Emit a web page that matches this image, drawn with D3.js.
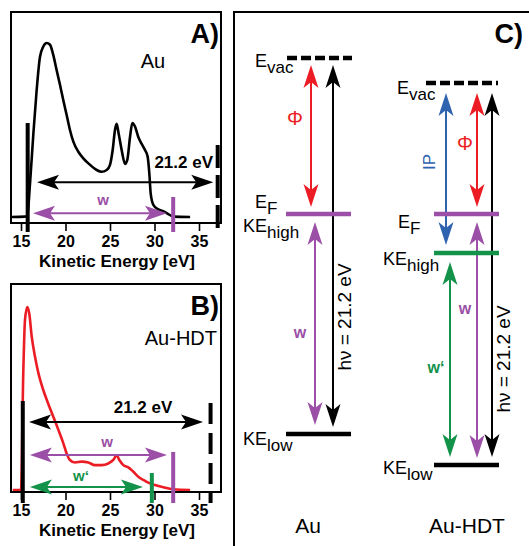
<!DOCTYPE html>
<html><head><meta charset="utf-8">
<script src="https://cdn.jsdelivr.net/npm/d3@7"></script>
<style>body{margin:0;background:#fff} svg{display:block} text{font-family:"Liberation Sans",Arial,Helvetica,sans-serif}</style>
</head><body><svg id="c" width="529" height="546"></svg>
<script>
// ---------- data ----------
const energyTicks = [15, 20, 25, 30, 35];
const axisTitle = "Kinetic Energy [eV]";
// Panel A: Au spectrum (kinetic energy, normalised intensity)
const auE = [13.9,15.45,15.71,16.01,16.39,16.76,17.13,17.51,17.88,18.26,18.63,19.0,19.38,19.76,20.13,20.5,20.88,21.44,22.0,22.75,23.5,24.06,24.63,25.0,25.3,25.56,25.75,25.97,26.31,26.69,26.95,27.25,27.51,27.81,28.18,28.56,28.93,29.23,29.42,29.57,29.87,30.43,30.99,31.55,32.12,34.0];
const auI = [0,0.002,0.01,0.19,0.48,0.73,0.92,0.98,1.0,0.99,0.93,0.845,0.76,0.67,0.586,0.5,0.433,0.375,0.337,0.30,0.27,0.26,0.27,0.30,0.385,0.5,0.535,0.48,0.385,0.305,0.33,0.46,0.54,0.52,0.46,0.42,0.385,0.347,0.25,0.136,0.07,0.044,0.034,0.017,0.002,0];
// Panel B: Au-HDT spectrum
const hdtE = [14.07,15.0,15.26,15.45,15.71,15.94,16.2,16.57,16.95,17.51,18.07,18.63,19.19,19.76,20.13,20.5,21.07,21.82,22.57,23.31,24.06,24.81,25.37,25.75,26.05,26.5,27.06,27.62,28.18,28.75,29.3,30.06,31.0,32.1,34.0];
const hdtI = [0,0,0.65,0.93,1.0,0.96,0.84,0.73,0.64,0.545,0.47,0.4,0.33,0.255,0.2,0.164,0.15,0.155,0.15,0.136,0.136,0.145,0.164,0.19,0.164,0.136,0.124,0.1,0.073,0.055,0.04,0.027,0.015,0.004,0];
// Panel A markers (eV)
const auCutoff = 15.75, auFermi = 32.1, auVac = 37.1;
// Panel B markers (eV)
const hdtCutoff = 15.2, hdtFermi = 32.1, hdtHigh = 29.7, hdtVac = 36.3;
// Panel C energy levels (diagram energy units)
const levelNames = ["Evac", "EF", "KEhigh", "KElow"];
const auLevels = [21.2, 12.4, 12.4, 0];
const hdtLevels = [19.79, 12.4, 10.2, -1.75];
const photonLabel = "hν = 21.2 eV";
const sampleNames = ["Au", "Au-HDT"];

// ---------- style ----------
const PURPLE = "#9b4fa6", GREEN = "#13924a", BLUE = "#2f63b0", RED = "#ec1c24", BLACK = "#000";
const svg = d3.select("#c");

function arrow(g, x1, y1, x2, y2, color, startHead, endHead, opt = {}) {
  const L = opt.L || 22, W = opt.W || 7.5, N = opt.N || 16, sw = opt.sw || 2;
  const len = Math.hypot(x2 - x1, y2 - y1), dx = (x2 - x1) / len, dy = (y2 - y1) / len;
  const sx = startHead ? x1 + dx * N : x1, sy = startHead ? y1 + dy * N : y1;
  const ex = endHead ? x2 - dx * N : x2, ey = endHead ? y2 - dy * N : y2;
  g.append("line").attr("x1", sx).attr("y1", sy).attr("x2", ex).attr("y2", ey)
    .attr("stroke", color).attr("stroke-width", sw);
  const head = (tx, ty, ux, uy) => {
    const nx = -uy, ny = ux;
    const p = [[tx, ty], [tx - ux * L + nx * W, ty - uy * L + ny * W], [tx - ux * N, ty - uy * N], [tx - ux * L - nx * W, ty - uy * L - ny * W]];
    g.append("path").attr("d", "M" + p.map(q => q.join(",")).join("L") + "Z").attr("fill", color);
  };
  if (endHead) head(x2, y2, dx, dy);
  if (startHead) head(x1, y1, -dx, -dy);
}

// ---------- spectra panels ----------
const x = d3.scaleLinear().domain([15, 35]).range([21, 199]);

function spectrum(cfg) {
  const g = svg.append("g");
  const y = d3.scaleLinear().domain([0, 1]).range([cfg.base, cfg.peak]);
  const ax = g.append("g").attr("transform", `translate(0,${cfg.bottom})`)
    .call(d3.axisBottom(x).tickValues(energyTicks).tickSize(8).tickSizeOuter(0).tickPadding(4.5));
  ax.select(".domain").remove();
  ax.selectAll(".tick line").attr("stroke-width", 1.6);
  ax.selectAll(".tick text").attr("font-size", 16).attr("font-weight", "bold")
    .attr("font-family", '"Liberation Sans",Arial,sans-serif').attr("fill", BLACK);
  g.append("text").attr("x", 117).attr("y", cfg.bottom + 44).attr("text-anchor", "middle")
    .attr("font-size", 17).attr("font-weight", "bold").text(axisTitle);
  const line = d3.line().x((d, i) => x(cfg.E[i])).y(d => y(d)).curve(d3.curveMonotoneX);
  g.append("path").attr("d", line(cfg.I)).attr("fill", "none").attr("stroke", cfg.color)
    .attr("stroke-width", 2.6).attr("stroke-linejoin", "round");
  g.append("rect").attr("x", 11).attr("y", cfg.top).attr("width", 210).attr("height", cfg.bottom - cfg.top)
    .attr("fill", "none").attr("stroke", BLACK).attr("stroke-width", 2);
  const low = y(cfg.barLow);
  g.append("line").attr("x1", x(cfg.cutoff)).attr("x2", x(cfg.cutoff)).attr("y1", y(cfg.cutTop)).attr("y2", low)
    .attr("stroke", BLACK).attr("stroke-width", 4);
  g.append("line").attr("x1", x(cfg.vac)).attr("x2", x(cfg.vac)).attr("y1", y(cfg.vacTop)).attr("y2", low)
    .attr("stroke", BLACK).attr("stroke-width", 4).attr("stroke-dasharray", cfg.dash);
  g.append("line").attr("x1", x(cfg.fermi)).attr("x2", x(cfg.fermi)).attr("y1", y(cfg.fermiTop)).attr("y2", low)
    .attr("stroke", PURPLE).attr("stroke-width", 4);
  if (cfg.high) g.append("line").attr("x1", x(cfg.high)).attr("x2", x(cfg.high)).attr("y1", y(cfg.highTop)).attr("y2", low)
    .attr("stroke", GREEN).attr("stroke-width", 4);
  cfg.arrows.forEach(a => {
    arrow(g, x(a.from), y(a.at), x(a.to), y(a.at), a.color, true, true, { L: 22, W: 7.5, N: 17, sw: 2 });
    g.append("text").attr("x", a.lx).attr("y", a.ly).attr("text-anchor", a.anchor || "middle")
      .attr("font-size", a.fs || 15).attr("font-weight", "bold").attr("fill", a.color).text(a.label);
  });
  g.append("text").attr("x", 219).attr("y", cfg.top + 31).attr("text-anchor", "end")
    .attr("font-size", 27).attr("font-weight", "bold").text(cfg.panel);
  g.append("text").attr("x", cfg.nameX).attr("y", cfg.nameY).attr("text-anchor", cfg.nameAnchor)
    .attr("font-size", 20).text(cfg.name);
}

spectrum({
  top: 12, bottom: 223, base: 217, peak: 43, E: auE, I: auI, color: BLACK,
  cutoff: auCutoff, cutTop: 0.54, vac: auVac, vacTop: 0.414, fermi: auFermi, fermiTop: 0.115,
  barLow: -0.086, dash: "23,7",
  arrows: [
    { from: 16.8, to: 36.6, at: 0.2, color: BLACK, label: "21.2 eV", lx: 213, ly: 168, anchor: "end", fs: 17 },
    { from: 16.35, to: 31.4, at: 0.022, color: PURPLE, label: "w", lx: 103, ly: 205 }
  ],
  panel: "A)", name: sampleNames[0], nameX: 153, nameY: 68, nameAnchor: "middle"
});
spectrum({
  top: 284, bottom: 492, base: 490, peak: 307, E: hdtE, I: hdtI, color: RED,
  cutoff: hdtCutoff, cutTop: 0.486, vac: hdtVac, vacTop: 0.475, fermi: hdtFermi, fermiTop: 0.208,
  high: hdtHigh, highTop: 0.093, barLow: -0.071, dash: "21,9",
  arrows: [
    { from: 15.9, to: 35.45, at: 0.372, color: BLACK, label: "21.2 eV", lx: 143, ly: 413, fs: 17 },
    { from: 16.0, to: 31.4, at: 0.191, color: PURPLE, label: "w", lx: 107, ly: 447 },
    { from: 16.0, to: 28.7, at: 0.016, color: GREEN, label: "w‘", lx: 81, ly: 481 }
  ],
  panel: "B)", name: sampleNames[1], nameX: 217, nameY: 345, nameAnchor: "end"
});

// ---------- panel C ----------
const gC = svg.append("g");
gC.append("path").attr("d", "M234,560V12H535").attr("fill", "none").attr("stroke", BLACK).attr("stroke-width", 2);
gC.append("text").attr("x", 523).attr("y", 43).attr("text-anchor", "end").attr("font-size", 27)
  .attr("font-weight", "bold").text("C)");
const yC = d3.scaleLinear().domain([0, 21.2]).range([434, 58]);
const lv = (arr, name) => yC(arr[levelNames.indexOf(name)]);

function level(x1, x2, yy, color, dashed) {
  const l = gC.append("line").attr("x1", x1).attr("x2", x2).attr("y1", yy).attr("y2", yy)
    .attr("stroke", color).attr("stroke-width", 4.5);
  if (dashed) l.attr("stroke-dasharray", "10,4");
}
function label(xx, yy, main, sub) {
  const t = gC.append("text").attr("x", xx).attr("y", yy).attr("font-size", 18);
  t.append("tspan").text(main);
  t.append("tspan").attr("dy", 6).attr("font-size", 17).text(sub);
}
function vtext(xx, yy, txt, color, fs, bold) {
  gC.append("text").attr("transform", `translate(${xx},${yy}) rotate(-90)`).attr("text-anchor", "middle")
    .attr("font-size", fs).attr("fill", color).attr("font-weight", bold ? "bold" : "normal").text(txt);
}
function ctext(xx, yy, txt, color, fs, bold) {
  gC.append("text").attr("x", xx).attr("y", yy).attr("text-anchor", "middle").attr("dominant-baseline", "central")
    .attr("font-size", fs).attr("fill", color).attr("font-weight", bold ? "bold" : "normal").text(txt);
}
const gap = 7;
// Au column
{
  const L = auLevels, x1 = 286, x2 = 351;
  const yV = lv(L, "Evac"), yF = lv(L, "EF"), yLo = lv(L, "KElow");
  arrow(gC, 311, yV + gap, 311, yF - gap, RED, true, true, { L: 23, W: 7.5, N: 17 });
  arrow(gC, 333, yV + gap, 333, yLo - gap, BLACK, true, true, { L: 23, W: 7.5, N: 17 });
  arrow(gC, 315, yF + 8, 315, yLo - 9, PURPLE, true, true, { L: 23, W: 7.5, N: 17 });
  level(x1 + 1, x2 + 1, yV, BLACK, true);
  level(x1, x2, yF, PURPLE);
  level(x1, x2, yLo, BLACK);
  label(255, yV + 9, "E", "vac");
  label(255, yF - 6, "E", "F");
  label(243, yF + 18, "KE", "high");
  label(243, yLo + 11, "KE", "low");
  ctext(295, 118, "Φ", RED, 20);
  ctext(300, 332, "w", PURPLE, 16, true);
  vtext(351, 317, photonLabel, BLACK, 19);
  gC.append("text").attr("x", 308).attr("y", 533).attr("text-anchor", "middle").attr("font-size", 21).text(sampleNames[0]);
}
// Au-HDT column
{
  const L = hdtLevels, x1 = 434, x2 = 499;
  const yV = lv(L, "Evac"), yF = lv(L, "EF"), yH = lv(L, "KEhigh"), yLo = lv(L, "KElow");
  arrow(gC, 446, yV + 10, 446, yH - 8, BLUE, true, true, { L: 23, W: 7.5, N: 17 });
  arrow(gC, 477, yV + 10, 477, yF - gap, RED, true, true, { L: 23, W: 7.5, N: 17 });
  arrow(gC, 492, yV + 10, 492, yLo - 8, BLACK, true, true, { L: 23, W: 7.5, N: 17 });
  arrow(gC, 477, yF + 8, 477, yLo - 7, PURPLE, true, true, { L: 23, W: 7.5, N: 17 });
  arrow(gC, 450, yH + 9, 450, yLo - 8, GREEN, true, true, { L: 23, W: 7.5, N: 17 });
  level(x1 - 8, x2 - 1, yV, BLACK, true);
  level(x1, x2, yF, PURPLE);
  level(x1, x2, yH, GREEN);
  level(x1, x2, yLo, BLACK);
  label(397, yV + 11, "E", "vac");
  label(398, yF + 14, "E", "F");
  label(383, yH + 12, "KE", "high");
  label(383, yLo + 9, "KE", "low");
  vtext(435, 162, "IP", BLUE, 17);
  ctext(465, 143, "Φ", RED, 20);
  ctext(465, 308, "w", PURPLE, 16, true);
  ctext(436, 367, "w‘", GREEN, 16, true);
  vtext(510, 359, photonLabel, BLACK, 19);
  gC.append("text").attr("x", 467).attr("y", 533).attr("text-anchor", "middle").attr("font-size", 21).text(sampleNames[1]);
}
</script></body></html>
